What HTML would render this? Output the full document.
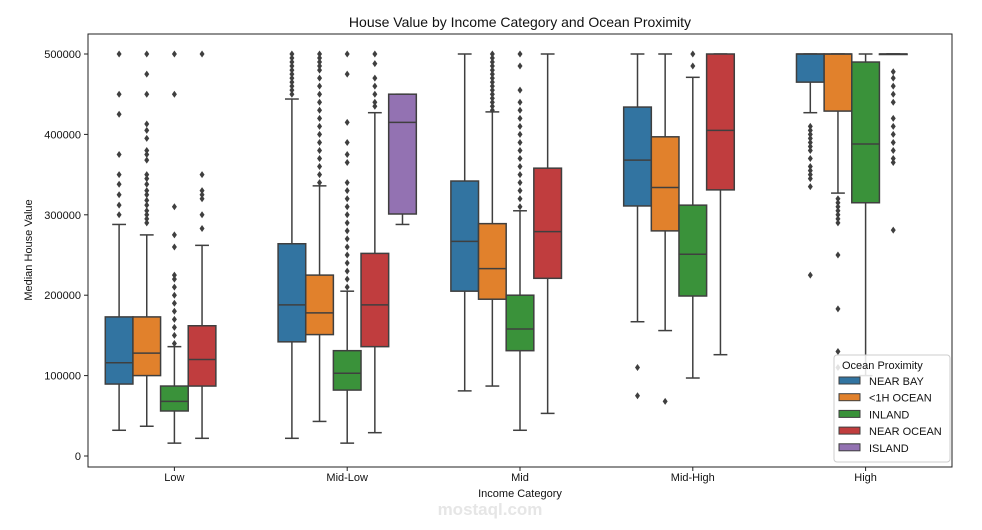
<!DOCTYPE html>
<html><head><meta charset="utf-8"><style>
html,body{margin:0;padding:0;background:#fff;}
svg{display:block;font-family:"Liberation Sans","DejaVu Sans",sans-serif;}
</style></head><body>
<svg id="chart" width="982" height="530" xmlns="http://www.w3.org/2000/svg">
<text x="520" y="27" text-anchor="middle" font-size="14" fill="#111">House Value by Income Category and Ocean Proximity</text>
<text transform="translate(32,250) rotate(-90)" text-anchor="middle" font-size="11" fill="#111">Median House Value</text>
<text x="520" y="497" text-anchor="middle" font-size="11" fill="#111">Income Category</text>
<text x="490" y="515" text-anchor="middle" font-size="17" font-weight="bold" fill="#e6e6e6">mostaql.com</text>
<g id="plot"></g>
<g id="legend"></g>
</svg>
<script>
const categories=["Low","Mid-Low","Mid","Mid-High","High"];
const hues=["NEAR BAY","<1H OCEAN","INLAND","NEAR OCEAN","ISLAND"];
const colors=["#3274a1","#e1812c","#3a923a","#c03d3e","#9372b2"];
const yTicks=[0,100000,200000,300000,400000,500000];
// [lowWhisker, Q1, median, Q3, highWhisker] per category, per hue (null = absent)
const nearBay=[[32000,89500,116000,173000,288000],[22000,142000,188000,264000,444000],[81000,205000,267000,342000,500000],[167000,311000,368000,434000,500000],[427000,465000,500000,500000,500000]];
const oneHOcean=[[37000,100000,128000,173000,275000],[43000,151000,178000,225000,336000],[87000,195000,233000,289000,428000],[156000,280000,334000,397000,500000],[327000,429000,500000,500000,500000]];
const inland=[[16000,56000,68000,87000,136000],[16000,82000,103000,131000,205000],[32000,131000,158000,200000,305000],[97000,199000,251000,312000,471000],[100000,315000,388000,490000,500000]];
const nearOcean=[[22000,87000,120000,162000,262000],[29000,136000,188000,252000,427000],[53000,221000,279000,358000,500000],[126000,331000,405000,500000,500000],[500000,500000,500000,500000,500000]];
const island=[null,[288000,301000,415000,450000,450000],null,null,null];
const nearBayOut=[[500000,450000,425000,375000,350000,338000,325000,312000,300000],[500000,495000,490000,485000,480000,475000,470000,465000,460000,455000,450000],[],[110000,75000],[410000,405000,400000,395000,390000,385000,380000,370000,360000,355000,350000,345000,335000,225000]];
const oneHOut=[[500000,475000,450000,413000,405000,395000,380000,375000,368000,350000,345000,338000,330000,325000,318000,312000,305000,300000,295000,290000],[500000,495000,490000,485000,480000,470000,460000,450000,440000,430000,420000,410000,400000,390000,380000,370000,360000,350000,340000],[500000,495000,490000,485000,480000,475000,470000,465000,460000,455000,450000,445000,440000,435000,430000],[68000],[320000,315000,310000,305000,300000,295000,290000,250000,183000,130000,110000]];
const inlandOut=[[500000,450000,310000,275000,260000,225000,220000,210000,200000,190000,180000,170000,160000,150000,140000],[500000,475000,415000,390000,375000,365000,340000,330000,320000,310000,300000,290000,280000,270000,260000,250000,240000,230000,220000,210000],[500000,485000,455000,440000,430000,420000,410000,400000,390000,380000,370000,360000,350000,340000,330000,320000,310000],[500000,485000],[]];
const nearOceanOut=[[500000,350000,330000,325000,320000,300000,283000],[500000,488000,470000,460000,450000,440000,435000],[],[],[478000,470000,460000,450000,440000,420000,410000,400000,390000,380000,370000,365000,281000]];
const islandOut=[[],[],[],[],[]];
const series=[nearBay,oneHOcean,inland,nearOcean,island];
const outliers=[nearBayOut,oneHOut,inlandOut,nearOceanOut,islandOut];

const NS="http://www.w3.org/2000/svg";
const L=88,R=952,T=34,B=467;
const y=v=>456-v/500000*402;
const band=(R-L)/categories.length;
const xc=i=>L+band*(i+0.5);
const bw=band*0.8/hues.length;
const hx=(i,h)=>xc(i)+(h-(hues.length-1)/2)*bw;
function mk(tag,attrs,parent){const e=document.createElementNS(NS,tag);for(const k in attrs)e.setAttribute(k,attrs[k]);parent.appendChild(e);return e;}
const plot=document.getElementById('plot');
const frame=mk('rect',{x:L,y:T,width:R-L,height:B-T,fill:'none',stroke:'#222','stroke-width':1},plot);


yTicks.forEach(t=>{
  const tk=mk('line',{x1:L-4,x2:L,y1:y(t),y2:y(t),stroke:'#222'},plot);
  
  
  const tx=mk('text',{x:L-7,y:y(t)+4,'text-anchor':'end','font-size':11,fill:'#111'},plot);
  tx.textContent=t;
  
  
});
categories.forEach((c,i)=>{
  const tk=mk('line',{x1:xc(i),x2:xc(i),y1:B,y2:B+4,stroke:'#222'},plot);
  
  
  const tx=mk('text',{x:xc(i),y:B+14,'text-anchor':'middle','font-size':11,fill:'#111'},plot);
  tx.textContent=c;
  
  
});
const G='#3f3f3f';
series.forEach((s,h)=>{
  s.forEach((d,i)=>{
    if(!d)return;
    const cx=hx(i,h),x0=cx-bw/2;
    const g=mk('g',{},plot);
    
    
    const [lo,q1,md,q3,hi]=d;
    mk('line',{x1:cx,x2:cx,y1:y(lo),y2:y(q1),stroke:G,'stroke-width':1.5},g);
    mk('line',{x1:cx,x2:cx,y1:y(q3),y2:y(hi),stroke:G,'stroke-width':1.5},g);
    mk('line',{x1:cx-bw/4,x2:cx+bw/4,y1:y(lo),y2:y(lo),stroke:G,'stroke-width':1.5},g);
    mk('line',{x1:cx-bw/4,x2:cx+bw/4,y1:y(hi),y2:y(hi),stroke:G,'stroke-width':1.5},g);
    mk('rect',{x:x0,y:y(q3),width:bw,height:Math.max(0.5,y(q1)-y(q3)),fill:colors[h],stroke:G,'stroke-width':1.5},g);
    mk('line',{x1:x0,x2:x0+bw,y1:y(md),y2:y(md),stroke:G,'stroke-width':1.5},g);
    (outliers[h][i]||[]).forEach(v=>{
      const py=y(v);
      const p=mk('path',{d:`M${cx},${py-3.5}L${cx+2.5},${py}L${cx},${py+3.5}L${cx-2.5},${py}Z`,fill:G},g);
      
      
    });
  });
});
const lg=document.getElementById('legend');
mk('rect',{x:834,y:355,width:116,height:107,rx:3,fill:'#fff','fill-opacity':0.85,stroke:'#ccc'},lg);
const lt=mk('text',{x:842,y:369,'font-size':11,fill:'#111'},lg);
lt.textContent='Ocean Proximity';


hues.forEach((n,h)=>{
  const yy=381+h*16.7;
  const e=mk('g',{},lg);
  
  
  mk('rect',{x:839,y:yy-4,width:21,height:7,fill:colors[h],stroke:G,'stroke-width':1},e);
  const t=mk('text',{x:869,y:yy+4,'font-size':11,fill:'#111'},e);
  t.textContent=n;
});
</script>
</body></html>
